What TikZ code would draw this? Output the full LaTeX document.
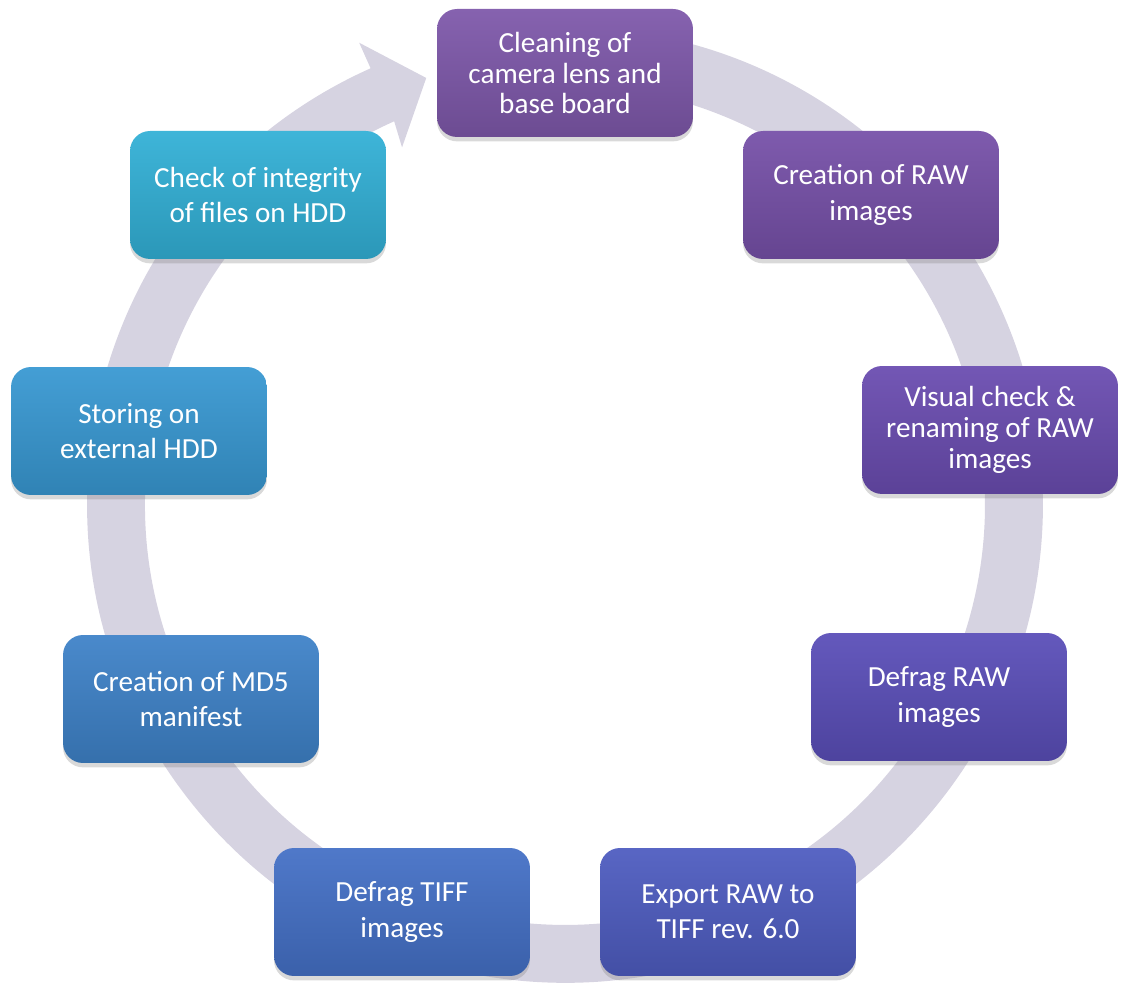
\documentclass[tikz,border=0pt]{standalone}
\usepackage{fontspec}
\setmainfont{Carlito}
\usepackage{xcolor}
\usepackage{tikz}
\usetikzlibrary{calc, shadows}
\definecolor{ring-grey}{RGB}{214, 211, 225}
\definecolor{wf-violet}{RGB}{126, 88, 170}
\definecolor{wf-purple}{RGB}{118, 80, 168}
\definecolor{wf-indigo}{RGB}{106, 76, 176}
\definecolor{wf-iris}{RGB}{90, 78, 184}
\definecolor{wf-royal}{RGB}{78, 92, 192}
\definecolor{wf-blue}{RGB}{68, 112, 198}
\definecolor{wf-steel}{RGB}{62, 130, 200}
\definecolor{wf-sky}{RGB}{56, 152, 210}
\definecolor{wf-cyan}{RGB}{50, 176, 214}

\begin{document}
\begin{tikzpicture}[
    x=0.02cm, y=0.02cm,
    stepbox/.style={rectangle, rounded corners=0.4cm,
                minimum width=5.12cm, minimum height=2.56cm,
                align=center, text=white,
                font=\fontsize{16.6}{20}\selectfont,
                drop shadow={shadow xshift=0pt, shadow yshift=-2.5pt, opacity=0.3}},
    tight/.style={font=\fontsize{16.6}{17.6}\selectfont},
    tone/.style={top color=#1!94!white, bottom color=#1!86!black}
  ]
    \useasboundingbox (0,0) rectangle (1121,983);
    \coordinate (hub) at (565,478);
    % circular arrow behind the steps
    \fill[ring-grey] ($(hub)+(85:478)$) arc[start angle=85, end angle=-246, radius=9.56cm]
        -- ($(hub)+(114:506)$) -- ($(hub)+(108:449)$) -- ($(hub)+(114.5:393)$)
        -- ($(hub)+(114:420)$) arc[start angle=114, end angle=445, radius=8.4cm] -- cycle;

    \node[stepbox, tight, tone=wf-violet] (clean)  at (565,910) {Cleaning of\\camera lens and\\base board};
    \node[stepbox, tone=wf-purple] (raw)    at (871,788) {Creation of RAW\\images};
    \node[stepbox, tight, tone=wf-indigo] (visual) at (990,553) {Visual check \&\\renaming of RAW\\images};
    \node[stepbox, tone=wf-iris]   (defraw) at (939,286) {Defrag RAW\\images};
    \node[stepbox, tone=wf-royal]  (export) at (728,71)  {Export RAW to\\TIFF rev. 6.0};
    \node[stepbox, tone=wf-blue]   (deftif) at (402,71)  {Defrag TIFF\\images};
    \node[stepbox, tone=wf-steel]  (md5)    at (191,284) {Creation of MD5\\manifest};
    \node[stepbox, tone=wf-sky]    (store)  at (139,552) {Storing on\\external HDD};
    \node[stepbox, tone=wf-cyan]   (check)  at (258,788) {Check of integrity\\of files on HDD};
  \end{tikzpicture}
\end{document}
